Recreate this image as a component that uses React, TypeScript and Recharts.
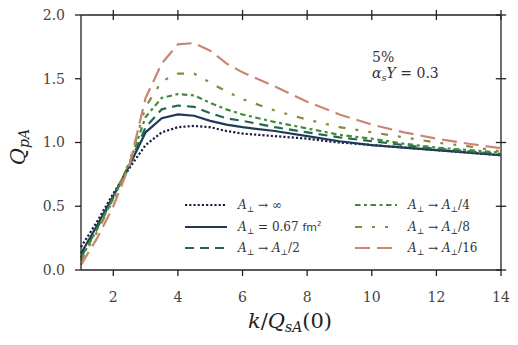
import { LineChart, Line, XAxis, YAxis, Label, ReferenceLine } from "recharts";

const kValues = [1, 1.5, 2, 2.5, 3, 3.5, 4, 4.5, 5, 5.5, 6, 7, 8, 9, 10, 11, 12, 13, 14];

const qInf = [0.18, 0.38, 0.6, 0.8, 0.98, 1.08, 1.12, 1.13, 1.12, 1.09, 1.07, 1.05, 1.03, 1.0, 0.98, 0.96, 0.94, 0.92, 0.9];
const qBase = [0.13, 0.35, 0.58, 0.82, 1.08, 1.19, 1.22, 1.21, 1.17, 1.14, 1.12, 1.09, 1.05, 1.01, 0.98, 0.96, 0.94, 0.92, 0.9];
const qHalf = [0.1, 0.33, 0.57, 0.83, 1.12, 1.26, 1.29, 1.28, 1.23, 1.19, 1.17, 1.12, 1.08, 1.04, 1.01, 0.98, 0.95, 0.93, 0.91];
const qQuarter = [0.09, 0.32, 0.56, 0.84, 1.2, 1.35, 1.38, 1.37, 1.31, 1.26, 1.22, 1.16, 1.11, 1.06, 1.03, 0.99, 0.96, 0.94, 0.92];
const qEighth = [0.07, 0.3, 0.55, 0.85, 1.28, 1.48, 1.54, 1.54, 1.47, 1.4, 1.34, 1.25, 1.18, 1.12, 1.08, 1.04, 1.0, 0.97, 0.93];
const qSixteenth = [0.04, 0.25, 0.5, 0.82, 1.35, 1.62, 1.77, 1.78, 1.72, 1.62, 1.55, 1.44, 1.32, 1.22, 1.14, 1.08, 1.03, 0.99, 0.955];

const xTicks = [2, 4, 6, 8, 10, 12, 14];
const yTicks = [0, 0.5, 1, 1.5, 2];
const X_MIN = 1;
const X_MAX = 14;
const Y_MIN = 0;
const Y_MAX = 2;

const series = [
  { key: "inf", values: qInf, color: "#1f1f3d", dash: "2.2 2", label: "inf" },
  { key: "base", values: qBase, color: "#1f3a56", dash: undefined, label: "base" },
  { key: "half", values: qHalf, color: "#22684f", dash: "9 6", label: "2" },
  { key: "quarter", values: qQuarter, color: "#438a37", dash: "5.5 3.5 3 3.5", label: "4" },
  { key: "eighth", values: qEighth, color: "#8a883c", dash: "7 10 3 10 3 10", label: "8" },
  { key: "sixteenth", values: qSixteenth, color: "#c98673", dash: "15 7", label: "16" },
];

const data = kValues.map((k, i) => {
  const row: Record<string, number> = { k };
  series.forEach((s) => (row[s.key] = s.values[i]));
  return row;
});

const FONT = "DejaVu Serif";
const AXIS = "#222";

const Aperp = () => (
  <>
    <tspan fontStyle="italic">A</tspan>
    <tspan fontSize="8" dy="3">⊥</tspan>
  </>
);

const legendText = (label: string) => {
  if (label === "inf")
    return (
      <>
        <Aperp />
        <tspan dy="-3"> → ∞</tspan>
      </>
    );
  if (label === "base")
    return (
      <>
        <Aperp />
        <tspan dy="-3"> = 0.67 </tspan>
        <tspan fontFamily="DejaVu Sans" fontSize="11">fm</tspan>
        <tspan fontFamily="DejaVu Sans" fontSize="7" dy="-5">2</tspan>
      </>
    );
  return (
    <>
      <Aperp />
      <tspan dy="-3"> → </tspan>
      <Aperp />
      <tspan dy="-3">/{label}</tspan>
    </>
  );
};

const legendPos = [
  { x: 185, y: 205 },
  { x: 185, y: 227 },
  { x: 185, y: 248 },
  { x: 355, y: 205 },
  { x: 355, y: 227 },
  { x: 355, y: 248 },
];

export default function App() {
  return (
    <div style={{ position: "absolute", left: 0, top: 0, width: 518, height: 345, background: "#fff" }}>
      <LineChart
        width={518}
        height={345}
        data={data}
        margin={{ top: 15, right: 17, bottom: 15, left: 31 }}
        style={{ fontFamily: FONT }}
      >
        <XAxis
          dataKey="k"
          type="number"
          domain={[X_MIN, X_MAX]}
          ticks={xTicks}
          interval={0}
          height={60}
          tickSize={6}
          tickMargin={16}
          stroke={AXIS}
          strokeWidth={1.3}
          tick={{ fill: "#444", fontSize: 14, fontFamily: FONT }}
        >
          <Label
            content={() => (
              <text x={290} y={328} textAnchor="middle" fontFamily={FONT} fontSize={21} fill="#222">
                <tspan fontStyle="italic">k</tspan>
                <tspan>/</tspan>
                <tspan fontStyle="italic">Q</tspan>
                <tspan fontStyle="italic" fontSize={14} dy={4}>sA</tspan>
                <tspan dy={-4}>(0)</tspan>
              </text>
            )}
          />
        </XAxis>
        <YAxis
          type="number"
          domain={[Y_MIN, Y_MAX]}
          ticks={yTicks}
          interval={0}
          width={50}
          tickSize={6}
          tickMargin={10}
          stroke={AXIS}
          strokeWidth={1.3}
          tickFormatter={(v: number) => v.toFixed(1)}
          tick={{ fill: "#444", fontSize: 14, fontFamily: FONT }}
        >
          <Label
            content={() => (
              <text
                x={0}
                y={0}
                transform="translate(25 147) rotate(-90)"
                textAnchor="middle"
                fontFamily={FONT}
                fontSize={21}
                fill="#222"
              >
                <tspan fontStyle="italic">Q</tspan>
                <tspan fontStyle="italic" fontSize={14} dy={4}>pA</tspan>
              </text>
            )}
          />
        </YAxis>
        {/* top and right spines with their ticks */}
        <ReferenceLine y={Y_MAX} stroke={AXIS} strokeWidth={1.3} ifOverflow="visible" />
        <ReferenceLine x={X_MAX} stroke={AXIS} strokeWidth={1.3} ifOverflow="visible" />
        {xTicks.map((t) => (
          <ReferenceLine
            key={`tx${t}`}
            segment={[{ x: t, y: Y_MAX - 0.04 }, { x: t, y: Y_MAX + 0.04 }]}
            stroke={AXIS}
            strokeWidth={1.3}
            ifOverflow="visible"
          />
        ))}
        {yTicks.map((t) => (
          <ReferenceLine
            key={`ty${t}`}
            segment={[{ x: X_MAX - 0.16, y: t }, { x: X_MAX + 0.16, y: t }]}
            stroke={AXIS}
            strokeWidth={1.3}
            ifOverflow="visible"
          />
        ))}
        {series.map((s) => (
          <Line
            key={s.key}
            dataKey={s.key}
            type="linear"
            stroke={s.color}
            strokeWidth={2.2}
            strokeDasharray={s.dash}
            dot={false}
            activeDot={false}
            isAnimationActive={false}
          />
        ))}
      </LineChart>
      <svg
        width={518}
        height={345}
        style={{ position: "absolute", left: 0, top: 0, pointerEvents: "none", fontFamily: FONT }}
      >
        <text x={372} y={62} fontSize={14} fill="#333" fontFamily={FONT}>5%</text>
        <text x={372} y={78} fontSize={14} fill="#333" fontFamily={FONT}>
          <tspan fontStyle="italic">α</tspan>
          <tspan fontStyle="italic" fontSize={10} dy={3}>s</tspan>
          <tspan fontStyle="italic" dy={-3}>Y</tspan>
          <tspan> = 0.3</tspan>
        </text>
        {series.map((s, i) => {
          const p = legendPos[i];
          return (
            <g key={s.key}>
              <line
                x1={p.x}
                x2={p.x + 42}
                y1={p.y}
                y2={p.y}
                stroke={s.color}
                strokeWidth={2.2}
                strokeDasharray={s.dash}
              />
              <text x={p.x + 53} y={p.y + 4} fontSize={12} fill="#333" fontFamily={FONT}>
                {legendText(s.label)}
              </text>
            </g>
          );
        })}
      </svg>
    </div>
  );
}
